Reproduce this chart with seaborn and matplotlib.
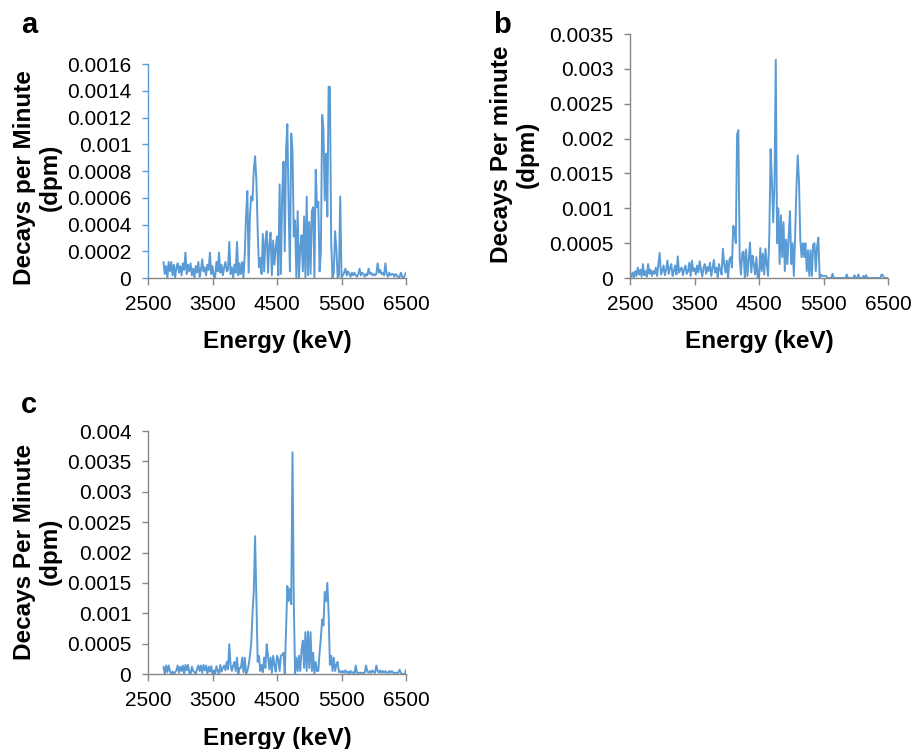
import numpy as np
import matplotlib
matplotlib.use("Agg")
import matplotlib.pyplot as plt
from matplotlib.ticker import MultipleLocator, FuncFormatter
import seaborn as sns

# Energy channels (keV), 20 keV bins
energy_a = np.arange(2740, 6501, 20)
energy_b = np.arange(2500, 6501, 20)
energy_c = np.arange(2740, 6501, 20)

xticks = [2500, 3500, 4500, 5500, 6500]

# Decays per minute, in units of 1e-4 dpm
dpm_a = [
    1.2, 0.3, 0.9, 0.0, 1.2, 0.5, 1.2, 0.2, 1.0, 0.0,
    0.8, 1.1, 0.4, 0.9, 0.2, 1.1, 0.6, 1.9, 0.3, 1.0,
    0.5, 1.1, 0.2, 0.7, 0.0, 0.9, 0.4, 1.2, 0.1, 0.6,
    1.4, 0.5, 0.8, 0.2, 1.0, 0.6, 1.9, 0.3, 0.9, 0.1,
    0.0, 1.2, 0.5, 1.9, 0.4, 1.0, 0.2, 0.8, 1.2, 0.5,
    0.6, 2.7, 0.3, 0.8, 0.0, 1.0, 0.4, 2.7, 0.2, 1.1,
    0.3, 1.2, 0.0, 1.8, 4.7, 6.5, 0.4, 4.7, 6.1, 5.8,
    8.1, 9.1, 7.3, 3.6, 0.8, 1.5, 0.3, 3.3, 0.5, 2.8,
    3.5, 0.4, 2.5, 3.4, 0.2, 2.8, 1.0, 2.3, 3.1, 0.2,
    7.0, 0.3, 6.3, 8.7, 2.0, 9.5, 11.5, 5.3, 0.5, 10.8,
    9.5, 3.1, 4.3, 0.0, 5.0, 0.0, 2.3, 3.2, 0.5, 4.6,
    0.0, 6.1, 0.2, 4.2, 0.3, 5.0, 5.3, 0.0, 8.1, 5.3,
    5.7, 0.5, 2.0, 12.2, 11.1, 5.8, 9.3, 4.6, 14.3, 14.3,
    2.6, 0.0, 0.4, 3.5, 2.2, 0.0, 0.2, 6.1, 0.0, 0.2,
    0.4, 0.7, 0.2, 0.5, 0.3, 0.1, 0.4, 0.2, 0.4, 0.2,
    0.1, 0.3, 0.7, 0.2, 0.4, 0.3, 0.1, 0.3, 0.2, 0.7,
    0.3, 0.4, 0.2, 0.3, 0.2, 0.3, 1.1, 0.4, 0.6, 0.3,
    0.4, 0.2, 1.1, 0.3, 0.1, 0.4, 0.2, 0.3, 0.3, 0.1,
    0.3, 0.2, 0.0, 0.1, 0.4, 0.1, 0.0, 0.2, 0.4,
]

dpm_b = [
    0.5, 0.2, 0.8, 0.0, 1.0, 0.3, 1.5, 0.5, 1.2, 0.2,
    2.0, 0.4, 1.0, 0.2, 2.0, 0.6, 1.2, 0.3, 1.0, 0.6,
    1.5, 0.3, 2.0, 3.6, 0.5, 1.0, 1.8, 0.4, 1.2, 2.5,
    0.6, 1.4, 2.0, 0.3, 1.0, 1.8, 0.5, 3.1, 0.8, 1.2,
    1.5, 0.4, 1.2, 1.8, 0.6, 1.0, 2.2, 0.3, 2.5, 1.0,
    1.4, 0.5, 1.8, 0.8, 2.4, 1.2, 0.2, 1.5, 2.0, 0.6,
    1.6, 1.0, 2.2, 0.3, 1.4, 2.6, 0.8, 1.5, 0.0, 2.0,
    1.2, 0.5, 4.2, 2.0, 0.8, 2.5, 0.0, 2.6, 3.0, 1.5,
    7.5, 7.0, 5.0, 20.6, 21.2, 3.0, 0.5, 3.6, 3.8, 0.0,
    4.1, 0.3, 2.5, 5.1, 0.8, 3.2, 2.0, 0.5, 3.0, 0.0,
    0.0, 4.3, 1.0, 3.5, 0.5, 4.2, 2.0, 0.3, 6.3, 18.5,
    14.0, 8.0, 13.5, 31.3, 5.0, 10.0, 2.0, 9.0, 3.0, 8.0,
    1.0, 5.5, 2.0, 6.0, 9.6, 2.0, 5.0, 0.3, 6.0, 12.8,
    17.6, 13.9, 5.5, 3.0, 5.0, 3.0, 5.0, 1.0, 4.0, 0.3,
    4.0, 0.3, 4.8, 5.0, 1.0, 4.5, 5.8, 0.0, 0.5, 0.3,
    0.3, 0.3, 0.3, 0.0, 0.0, 0.0, 0.0, 0.6, 0.0, 0.0,
    0.0, 0.0, 0.0, 0.0, 0.0, 0.0, 0.0, 0.0, 0.5, 0.0,
    0.0, 0.0, 0.0, 0.0, 0.4, 0.0, 0.0, 0.5, 0.0, 0.0,
    0.0, 0.3, 0.0, 0.4, 0.0, 0.0, 0.0, 0.0, 0.0, 0.0,
    0.0, 0.0, 0.0, 0.0, 0.0, 0.5, 0.4, 0.0, 0.0, 0.0,
    0.0,
]

dpm_c = [
    1.2, 0.0, 1.4, 0.3, 1.4, 0.5, 0.0, 0.4, 0.0, 0.3,
    0.6, 1.4, 0.2, 1.2, 0.5, 1.4, 0.0, 1.5, 0.6, 1.5,
    0.2, 0.0, 1.2, 0.5, 0.3, 0.0, 0.8, 1.4, 0.5, 1.4,
    0.2, 1.5, 0.6, 1.4, 0.0, 1.2, 0.4, 1.3, 0.0, 0.6,
    0.0, 1.3, 0.5, 0.0, 1.5, 0.4, 1.0, 1.4, 0.6, 2.0,
    0.8, 4.9, 1.5, 0.5, 1.4, 2.0, 0.5, 2.7, 0.0, 1.0,
    1.0, 2.7, 0.3, 2.7, 0.0, 0.5, 1.5, 3.0, 5.0, 10.0,
    13.7, 22.7, 12.0, 2.0, 3.0, 0.5, 1.5, 0.3, 2.7, 1.0,
    4.9, 3.0, 0.8, 2.7, 0.2, 3.0, 1.5, 0.4, 3.0, 2.5,
    0.5, 3.0, 3.2, 3.5, 0.0, 7.5, 14.5, 12.0, 14.0, 11.5,
    36.5, 12.0, 0.0, 2.7, 0.5, 3.0, 0.5, 4.0, 5.5, 1.0,
    6.9, 0.5, 7.0, 1.0, 6.9, 0.5, 3.5, 0.0, 2.0, 0.5,
    0.5, 3.5, 6.0, 9.0, 8.0, 13.5, 12.0, 15.0, 10.0, 1.5,
    3.0, 0.5, 2.7, 0.5, 1.5, 2.0, 0.3, 0.5, 0.2, 0.5,
    0.2, 0.6, 0.2, 0.4, 0.0, 0.5, 0.2, 0.3, 0.0, 1.4,
    0.2, 0.2, 0.2, 0.2, 0.2, 0.2, 0.2, 1.4, 0.4, 0.2,
    0.5, 0.2, 0.6, 0.3, 0.2, 1.4, 0.5, 0.2, 0.6, 0.2,
    0.5, 0.2, 0.5, 0.2, 0.2, 0.5, 0.2, 0.5, 0.2, 0.2,
    0.2, 0.2, 0.2, 0.7, 0.2, 0.0, 0.0, 0.0, 0.7,
]

ylabels = ["Decays per Minute\n(dpm)", "Decays Per minute\n(dpm)", "Decays Per Minute\n(dpm)"]

sns.set_style("white")
plt.rcParams["font.family"] = ["Liberation Sans", "DejaVu Sans"]
plt.rcParams["text.color"] = "black"
plt.rcParams["axes.labelcolor"] = "black"
plt.rcParams["xtick.labelcolor"] = "black"
plt.rcParams["ytick.labelcolor"] = "black"

line_color = "#5B9BD5"
gray = "#868686"

fig = plt.figure(figsize=(9.12, 7.49), dpi=100)
ax_a = fig.add_axes([0.1623, 0.6288, 0.2829, 0.2857])
ax_b = fig.add_axes([0.6908, 0.6288, 0.2829, 0.3258])
ax_c = fig.add_axes([0.1623, 0.1001, 0.2829, 0.3244])

panels = [
    (ax_a, energy_a, dpm_a, 0.0016, 0.0002, line_color, (-0.335, 0.47), -0.245),
    (ax_b, energy_b, dpm_b, 0.0035, 0.0005, gray, (-0.355, 0.508), -0.215),
    (ax_c, energy_c, dpm_c, 0.004, 0.0005, gray, (-0.335, 0.504), -0.218),
]

for (ax, e, d, ymax, ystep, lcol, ylc, xly), lab in zip(panels, ylabels):
    sns.lineplot(x=e, y=np.array(d) * 1e-4, ax=ax, color=line_color, linewidth=1.4)
    ax.set_xlim(2500, 6500)
    ax.set_ylim(0, ymax)
    ax.set_xticks(xticks)
    ax.set_xticklabels([str(t) for t in xticks])
    ax.yaxis.set_major_locator(MultipleLocator(ystep))
    ax.yaxis.set_major_formatter(FuncFormatter(lambda v, p: f"{v:g}"))
    for s in ["top", "right"]:
        ax.spines[s].set_visible(False)
    ax.spines["left"].set_color(lcol)
    ax.spines["bottom"].set_color(gray)
    ax.spines["left"].set_linewidth(1.0)
    ax.spines["bottom"].set_linewidth(1.0)
    ax.tick_params(axis="y", direction="out", length=4, width=1, color=lcol,
                   labelsize=15, pad=8, left=True, labelcolor="black")
    ax.tick_params(axis="x", direction="out", length=5, width=1, color=gray,
                   labelsize=15, pad=7, bottom=True, labelcolor="black")
    ax.set_ylabel(lab, fontsize=17.5, fontweight="bold", linespacing=1.15, color="black")
    ax.yaxis.set_label_coords(*ylc)
    ax.set_xlabel("Energy (keV)", fontsize=17.5, fontweight="bold", color="black")
    ax.xaxis.set_label_coords(0.5, xly)
    ax.xaxis.label.set_va("top")

fig.text(0.0227, 0.956, "a", fontsize=21, fontweight="bold", va="baseline", color="black")
fig.text(0.5406, 0.956, "b", fontsize=21, fontweight="bold", va="baseline", color="black")
fig.text(0.0227, 0.4486, "c", fontsize=21, fontweight="bold", va="baseline", color="black")

fig.savefig("out.png", dpi=100)
